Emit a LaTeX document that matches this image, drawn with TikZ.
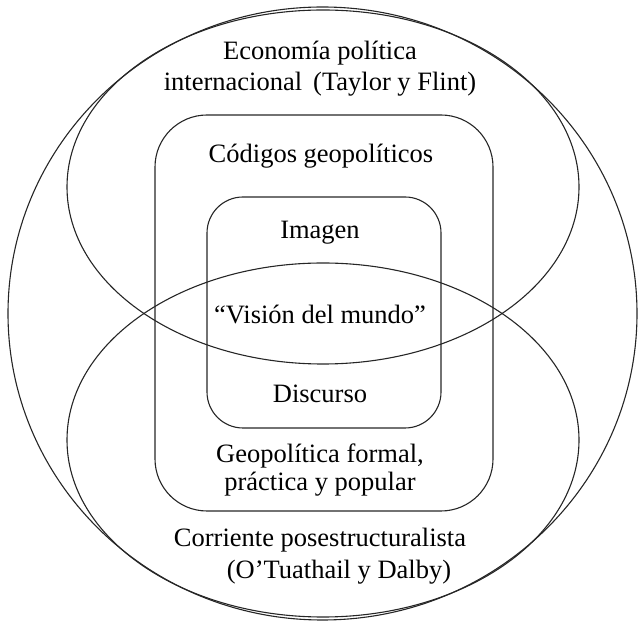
\documentclass[tikz,border=0pt]{standalone}
\usepackage{fontspec}
\setmainfont{Liberation Serif}
\usepackage{tikz}
\usetikzlibrary{positioning}

\begin{document}
\begin{tikzpicture}[x=1pt, y=1pt,
      every node/.style={align=center, font=\fontsize{26.5}{31}\selectfont},
      ring/.style={draw, line width=1.1pt, black!85},
      outerframe/.style={draw, line width=1.1pt, black!85, rounded corners=52pt},
      innerframe/.style={draw, line width=1.1pt, black!85, rounded corners=36pt}
    ]
    \useasboundingbox (0,0) rectangle (640,624);

    % circle and the two ellipses
    \draw[ring] (322.5,310.5) ellipse (314.5 and 306.5);
    \draw[ring] (323,437) ellipse (256 and 177);
    \draw[ring] (323,184) ellipse (256 and 177);

    % frames
    \draw[outerframe] (155,113) rectangle (493,509);
    \draw[innerframe] (207,196) rectangle (441,427);

    \node (economia) at (320,555) {Economía política\\internacional\, (Taylor y Flint)};
    \node (codigos) at (321,468) {Códigos geopolíticos};
    \node (imagen) at (320,391) {Imagen};
    \node (vision) at (320,310) {“Visión del mundo”};
    \node (discurso) at (320,230) {Discurso};
    \node[font=\fontsize{26.5}{28}\selectfont] (geopolitica) at (320,154) {Geopolítica formal,\\práctica y popular};
    \node[font=\fontsize{26.5}{32}\selectfont] (corriente) at (320,68) {Corriente posestructuralista\\\hspace*{38pt}(O’Tuathail y Dalby)};
\end{tikzpicture}
\end{document}
